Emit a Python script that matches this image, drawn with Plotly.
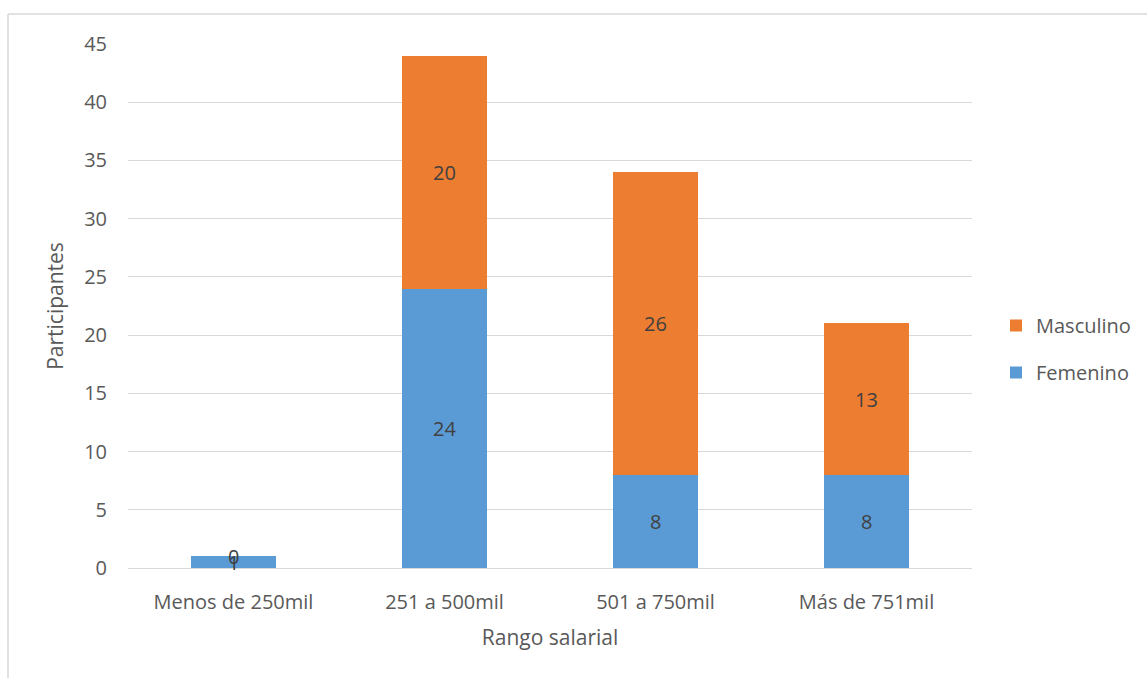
import plotly.graph_objects as go

categories = ["Menos de 250mil", "251 a 500mil", "501 a 750mil", "Más de 751mil"]
femenino = [1, 24, 8, 8]
masculino = [0, 20, 26, 13]
y_ticks = [0, 5, 10, 15, 20, 25, 30, 35, 40, 45]

BLUE = "#5B9BD5"
ORANGE = "#ED7D31"
TXT = "#595959"
FONT = "Open Sans"
FS = 20

W, H = 1147, 678
L, R, T, B = 128, 175, 44, 110
pw, ph = W - L - R, H - T - B

fig = go.Figure()
fig.add_trace(go.Bar(x=categories, y=femenino, name="Femenino", marker_color=BLUE,
                     marker_line_width=0, width=0.4, legendgroup="f", legendrank=2))
fig.add_trace(go.Bar(x=categories, y=masculino, name="Masculino", marker_color=ORANGE,
                     marker_line_width=0, width=0.4, legendgroup="m", legendrank=1))

annotations = []
for c, f, m in zip(categories, femenino, masculino):
    annotations.append(dict(x=c, y=f / 2, text=str(f), showarrow=False, xref="x", yref="y",
                            font=dict(family=FONT, size=FS, color="#404040")))
    annotations.append(dict(x=c, y=f + m / 2, text=str(m), showarrow=False, xref="x", yref="y",
                            font=dict(family=FONT, size=FS, color="#404040")))

fx = lambda px: (px - L) / pw
fy = lambda py: (H - B - py) / ph
shapes = [
    dict(type="line", xref="paper", yref="paper", x0=fx(8), x1=fx(W + 5), y0=fy(14), y1=fy(14),
         line=dict(color="#D9D9D9", width=1.5)),
    dict(type="line", xref="paper", yref="paper", x0=fx(8), x1=fx(8), y0=fy(14), y1=fy(H + 5),
         line=dict(color="#D9D9D9", width=1.5)),
]

fig.update_layout(
    width=W, height=H,
    margin=dict(l=L, r=R, t=T, b=B, autoexpand=False),
    barmode="stack",
    plot_bgcolor="white", paper_bgcolor="white",
    font=dict(family=FONT, size=FS, color=TXT),
    annotations=annotations,
    shapes=shapes,
    legend=dict(x=fx(996), y=fy(306), xanchor="left", yanchor="top",
                traceorder="grouped", font=dict(family=FONT, size=FS, color=TXT),
                itemwidth=30, tracegroupgap=18),
    xaxis=dict(title=dict(text="Rango salarial", standoff=16, font=dict(size=21)),
               range=[-0.5, 3.5], showgrid=False, showline=True, linecolor="#D9D9D9",
               linewidth=1, ticks="", tickfont=dict(size=FS), ticklabelstandoff=16,
               automargin=False),
    yaxis=dict(title=dict(text="Participantes", standoff=14, font=dict(size=21)),
               range=[0, 45], tickvals=y_ticks, showgrid=True, gridcolor="#D9D9D9",
               gridwidth=1, zeroline=False, showline=False, ticks="",
               tickfont=dict(size=FS), ticklabelstandoff=20, automargin=False),
)

fig.write_html("out.html")
